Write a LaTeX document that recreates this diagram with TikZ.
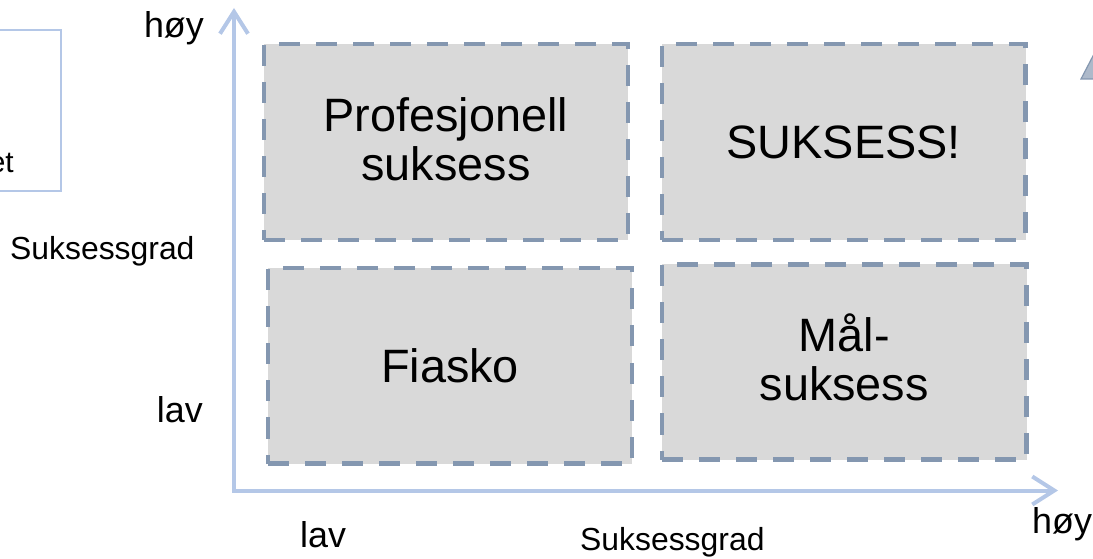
\documentclass[tikz,border=0pt]{standalone}
\usepackage{fontspec}
\setmainfont{Liberation Sans}
\usetikzlibrary{arrows.meta}
\definecolor{axisblue}{HTML}{B4C7E7}
\definecolor{boxfill}{HTML}{D9D9D9}
\definecolor{dashblue}{HTML}{8497B0}
\definecolor{trifill}{HTML}{ADB9CA}
\begin{document}
\begin{tikzpicture}[x=1bp,y=-1bp,
  quad/.style={draw=dashblue, fill=boxfill, line width=4.5bp,
    dash pattern=on 21bp off 16bp, inner sep=0pt, align=center,
    font=\fontsize{47}{49}\selectfont},
  axis/.style={draw=axisblue, line width=4bp,
    arrows={Straight Barb[length=22bp,width=28bp]-Straight Barb[length=22bp,width=28bp]}},
  labbig/.style={inner sep=0pt, font=\fontsize{36}{40}\selectfont},
  labmid/.style={inner sep=0pt, font=\fontsize{32}{36}\selectfont},
  labsmall/.style={inner sep=0pt, font=\fontsize{30}{34}\selectfont},
  legendbox/.style={draw=axisblue, line width=1.5bp, inner sep=0pt}]
\useasboundingbox (0,0) rectangle (1093,559);
% partial legend box at left
\node[legendbox, minimum width=91bp, minimum height=161bp] (legend) at (15.5,110.5) {};
\node[labsmall, anchor=base east] (legtext) at (14,173) {et};
% partial triangle at right
\draw[draw=dashblue, fill=trifill, line width=1.2bp] (1081,79) -- (1094,54) -- (1107,79) -- cycle;
% axes
\coordinate (origin) at (234,490.5);
\coordinate (xend) at (1058,490.5);
\coordinate (yend) at (234,8);
\draw[axis] (xend) -- (origin) -- (yend);
% quadrants
\node[quad, text depth=6bp, minimum width=364bp, minimum height=196bp] (tl) at (446,142) {Profesjonell\\suksess};
\node[quad, minimum width=363.5bp, minimum height=196bp] (tr) at (843.75,142) {SUKSESS!};
\node[quad, minimum width=364bp, minimum height=195.5bp] (bl) at (450,365.75) {Fiasko};
\node[quad, text depth=10bp, minimum width=364.5bp, minimum height=195bp] (br) at (844.25,362) {Mål-\\suksess};
% axis labels
\node[labbig, anchor=base east] (yhigh) at (204,38) {høy};
\node[labmid, anchor=base west] (ytitle) at (10,260) {Suksessgrad};
\node[labbig, anchor=base east] (ylow) at (203,422) {lav};
\node[labbig, anchor=base west] (xlow) at (300,547) {lav};
\node[labmid, anchor=base west] (xtitle) at (580,550) {Suksessgrad};
\node[labbig, anchor=base west] (xhigh) at (1032,533) {høy};
\end{tikzpicture}
\end{document}
